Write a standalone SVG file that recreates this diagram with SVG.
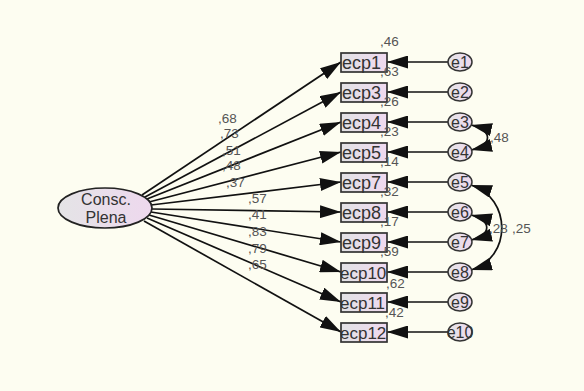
<svg xmlns="http://www.w3.org/2000/svg" width="584" height="391" viewBox="0 0 584 391">
<defs>
<linearGradient id="gBox" x1="0" y1="0" x2="1" y2="0">
<stop offset="0" stop-color="#e2e2e4"/><stop offset="1" stop-color="#efd9ef"/>
</linearGradient>
<linearGradient id="gEl" x1="0" y1="0" x2="1" y2="0">
<stop offset="0" stop-color="#e4e4e6"/><stop offset="1" stop-color="#eed8ee"/>
</linearGradient>
<marker id="ah" markerUnits="userSpaceOnUse" markerWidth="22" markerHeight="13" refX="21" refY="6.5" orient="auto-start-reverse" viewBox="0 0 22 13">
<path d="M0,0 L21,6.5 L0,13 z" fill="#111"/>
</marker>
<style>
.box{fill:url(#gBox);stroke:#333;stroke-width:1.7}
.err{fill:url(#gEl);stroke:#333;stroke-width:1.5}
.lat{fill:url(#gEl);stroke:#222;stroke-width:1.7}
.lbl{font-family:"Liberation Sans",Arial,sans-serif;font-size:18px;fill:#333}
.lbl2{font-family:"Liberation Sans",Arial,sans-serif;font-size:17px;fill:#333}
.elbl{font-family:"Liberation Sans",Arial,sans-serif;font-size:16px;fill:#333;text-anchor:middle}
.num{font-family:"Liberation Sans",Arial,sans-serif;font-size:13.5px;fill:#555}
.con{fill:none;stroke:#111;stroke-width:1.7;marker-end:url(#ah)}
.cov{fill:none;stroke:#111;stroke-width:1.7;marker-start:url(#ah);marker-end:url(#ah)}
</style>
</defs>
<rect width="584" height="391" fill="#fdfdf1"/>
<g id="connectors">
<path class="con" d="M142,195 L341,62"/>
<path class="con" d="M145,197 L341,92"/>
<path class="con" d="M147,199 L341,122"/>
<path class="con" d="M149,202 L341,152"/>
<path class="con" d="M151,205 L341,182"/>
<path class="con" d="M152,209 L341,212"/>
<path class="con" d="M151,212 L341,242"/>
<path class="con" d="M149,215 L341,272"/>
<path class="con" d="M147,218 L341,302"/>
<path class="con" d="M144,221 L341,332"/>
<path class="con" d="M448,62 L387,62"/>
<path class="con" d="M448,92 L387,92"/>
<path class="con" d="M448,122 L387,122"/>
<path class="con" d="M448,152 L387,152"/>
<path class="con" d="M448,182 L387,182"/>
<path class="con" d="M448,212 L387,212"/>
<path class="con" d="M448,242 L387,242"/>
<path class="con" d="M448,272 L387,272"/>
<path class="con" d="M448,302 L387,302"/>
<path class="con" d="M448,332 L387,332"/>
<path class="cov" d="M471,125 C493,130 493,145 471,150"/>
<path class="cov" d="M471,185 C512,198 512,258 471,270"/>
<path class="cov" d="M471,215 C492,220 492,235 471,240"/>
</g>
<g id="latent">
<ellipse class="lat" cx="105" cy="208" rx="47" ry="20"/>
<text class="elbl" x="106" y="205" font-size="18.5">Consc.</text>
<text class="elbl" x="106" y="223" font-size="18.5">Plena</text>
</g>
<g id="ecp1"><rect class="box" x="341" y="53" width="46" height="19"/><text class="lbl" x="342" y="69">ecp1</text></g>
<g id="ecp3"><rect class="box" x="341" y="83" width="46" height="19"/><text class="lbl" x="342" y="99">ecp3</text></g>
<g id="ecp4"><rect class="box" x="341" y="113" width="46" height="19"/><text class="lbl" x="342" y="129">ecp4</text></g>
<g id="ecp5"><rect class="box" x="341" y="143" width="46" height="19"/><text class="lbl" x="342" y="159">ecp5</text></g>
<g id="ecp7"><rect class="box" x="341" y="173" width="46" height="19"/><text class="lbl" x="342" y="189">ecp7</text></g>
<g id="ecp8"><rect class="box" x="341" y="203" width="46" height="19"/><text class="lbl" x="342" y="219">ecp8</text></g>
<g id="ecp9"><rect class="box" x="341" y="233" width="46" height="19"/><text class="lbl" x="342" y="249">ecp9</text></g>
<g id="ecp10"><rect class="box" x="341" y="263" width="46" height="19"/><text class="lbl2" x="340" y="279">ecp10</text></g>
<g id="ecp11"><rect class="box" x="341" y="293" width="46" height="19"/><text class="lbl2" x="340" y="309">ecp11</text></g>
<g id="ecp12"><rect class="box" x="341" y="323" width="46" height="19"/><text class="lbl2" x="340" y="339">ecp12</text></g>
<g id="e1"><ellipse class="err" cx="460" cy="62" rx="12" ry="9"/><text class="elbl" x="460" y="68">e1</text></g>
<g id="e2"><ellipse class="err" cx="460" cy="92" rx="12" ry="9"/><text class="elbl" x="460" y="98">e2</text></g>
<g id="e3"><ellipse class="err" cx="460" cy="122" rx="12" ry="9"/><text class="elbl" x="460" y="128">e3</text></g>
<g id="e4"><ellipse class="err" cx="460" cy="152" rx="12" ry="9"/><text class="elbl" x="460" y="158">e4</text></g>
<g id="e5"><ellipse class="err" cx="460" cy="182" rx="12" ry="9"/><text class="elbl" x="460" y="188">e5</text></g>
<g id="e6"><ellipse class="err" cx="460" cy="212" rx="12" ry="9"/><text class="elbl" x="460" y="218">e6</text></g>
<g id="e7"><ellipse class="err" cx="460" cy="242" rx="12" ry="9"/><text class="elbl" x="460" y="248">e7</text></g>
<g id="e8"><ellipse class="err" cx="460" cy="272" rx="12" ry="9"/><text class="elbl" x="460" y="278">e8</text></g>
<g id="e9"><ellipse class="err" cx="460" cy="302" rx="12" ry="9"/><text class="elbl" x="460" y="308">e9</text></g>
<g id="e10"><ellipse class="err" cx="460" cy="332" rx="12" ry="9"/><text class="elbl" x="460" y="338">e10</text></g>
<g id="labels">
<text class="num" x="218" y="123">,68</text>
<text class="num" x="220" y="138">,73</text>
<text class="num" x="222" y="155">,51</text>
<text class="num" x="222" y="170">,48</text>
<text class="num" x="226" y="187">,37</text>
<text class="num" x="248" y="203">,57</text>
<text class="num" x="248" y="219">,41</text>
<text class="num" x="248" y="236">,83</text>
<text class="num" x="248" y="253">,79</text>
<text class="num" x="248" y="269">,65</text>
<text class="num" x="380" y="46">,46</text>
<text class="num" x="380" y="76">,63</text>
<text class="num" x="380" y="106">,26</text>
<text class="num" x="380" y="136">,23</text>
<text class="num" x="380" y="166">,14</text>
<text class="num" x="380" y="196">,32</text>
<text class="num" x="380" y="226">,17</text>
<text class="num" x="380" y="256">,59</text>
<text class="num" x="386" y="288">,62</text>
<text class="num" x="385" y="317">,42</text>
<text class="num" x="490" y="142">,48</text>
<text class="num" x="489" y="233">,28</text>
<text class="num" x="512" y="233">,25</text>
</g>
</svg>
